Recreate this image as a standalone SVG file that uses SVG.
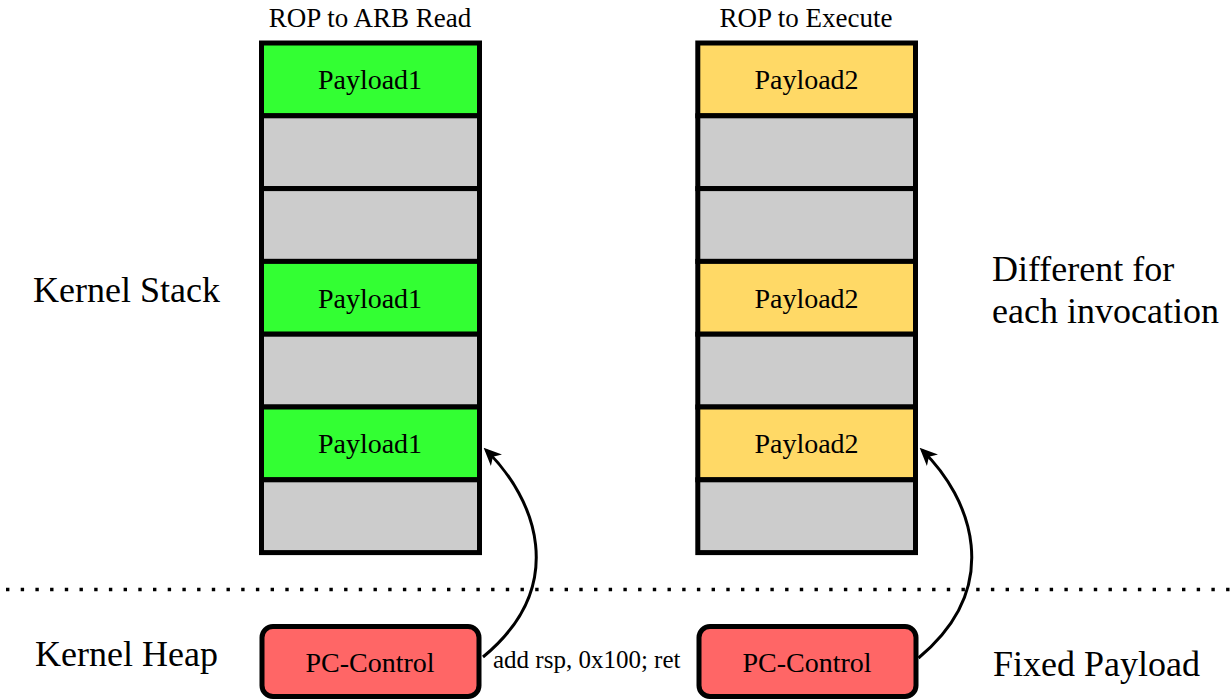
<svg xmlns="http://www.w3.org/2000/svg" width="1230" height="699" viewBox="0 0 1230 699">
  <defs>
    <style>
      text { font-family: "Liberation Serif", "Times New Roman", serif; fill: #000; }
      .title { font-size: 27px; text-anchor: middle; }
      .cell-label { font-size: 28px; text-anchor: middle; }
      .side { font-size: 36px; }
      .gadget { font-size: 25px; }
      .cell { stroke: #000; stroke-width: 5; }
      .empty { fill: #cccccc; }
      .green { fill: #33ff33; }
      .yellow { fill: #ffd966; }
      .pc { fill: #ff6666; stroke: #000; stroke-width: 5; }
      .edge { fill: none; stroke: #000; stroke-width: 3; }
      .divider { fill: none; stroke: #000; stroke-width: 3.4; stroke-dasharray: 3.4 11.3; }
    </style>
    <marker id="arrow" viewBox="0 0 18 16" markerWidth="18" markerHeight="16" refX="14" refY="8" orient="auto" markerUnits="userSpaceOnUse">
      <path d="M0,0 L18,8 L0,16 L5,8 Z" fill="#000"/>
    </marker>
  </defs>

  <rect width="1230" height="699" fill="#fff"/>

  <!-- stack / heap separator -->
  <line class="divider" x1="6" y1="589.5" x2="1230" y2="589.5"/>

  <!-- side labels -->
  <text class="side" x="33" y="302">Kernel Stack</text>
  <text class="side" x="35" y="666">Kernel Heap</text>
  <text class="side" x="992" y="281">Different for</text>
  <text class="side" x="992" y="323">each invocation</text>
  <text class="side" x="993" y="676">Fixed Payload</text>

  <!-- left stack: ROP to ARB Read -->
  <g id="stack-arb-read">
    <text class="title" x="370" y="27">ROP to ARB Read</text>
    <rect class="cell green" x="261.5" y="43" width="218" height="72.8"/>
    <rect class="cell empty" x="261.5" y="115.8" width="218" height="72.8"/>
    <rect class="cell empty" x="261.5" y="188.6" width="218" height="72.8"/>
    <rect class="cell green" x="261.5" y="261.4" width="218" height="72.8"/>
    <rect class="cell empty" x="261.5" y="334.2" width="218" height="72.8"/>
    <rect class="cell green" x="261.5" y="407" width="218" height="72.8"/>
    <rect class="cell empty" x="261.5" y="479.8" width="218" height="72.8"/>
    <text class="cell-label" x="370" y="89">Payload1</text>
    <text class="cell-label" x="370" y="308">Payload1</text>
    <text class="cell-label" x="370" y="453">Payload1</text>
  </g>

  <!-- right stack: ROP to Execute -->
  <g id="stack-execute">
    <text class="title" x="806" y="27">ROP to Execute</text>
    <rect class="cell yellow" x="697.8" y="43" width="217.7" height="72.8"/>
    <rect class="cell empty" x="697.8" y="115.8" width="217.7" height="72.8"/>
    <rect class="cell empty" x="697.8" y="188.6" width="217.7" height="72.8"/>
    <rect class="cell yellow" x="697.8" y="261.4" width="217.7" height="72.8"/>
    <rect class="cell empty" x="697.8" y="334.2" width="217.7" height="72.8"/>
    <rect class="cell yellow" x="697.8" y="407" width="217.7" height="72.8"/>
    <rect class="cell empty" x="697.8" y="479.8" width="217.7" height="72.8"/>
    <text class="cell-label" x="806.5" y="89">Payload2</text>
    <text class="cell-label" x="806.5" y="308">Payload2</text>
    <text class="cell-label" x="806.5" y="453">Payload2</text>
  </g>

  <!-- heap objects -->
  <g id="pc-control-left">
    <rect class="pc" x="262" y="626.5" width="217" height="70" rx="11" ry="11"/>
    <text class="cell-label" x="370" y="672">PC-Control</text>
  </g>
  <g id="pc-control-right">
    <rect class="pc" x="699" y="626.5" width="217" height="70" rx="11" ry="11"/>
    <text class="cell-label" x="807" y="672">PC-Control</text>
  </g>

  <!-- pivot edges -->
  <g id="connectors">
    <path class="edge" d="M483,657 C570,585 535,498 486.5,450.5" marker-end="url(#arrow)"/>
    <path class="edge" d="M918.5,658 C1005,586 971,498 922.5,450.5" marker-end="url(#arrow)"/>
    <text class="gadget" x="493" y="668">add rsp, 0x100; ret</text>
  </g>
</svg>
